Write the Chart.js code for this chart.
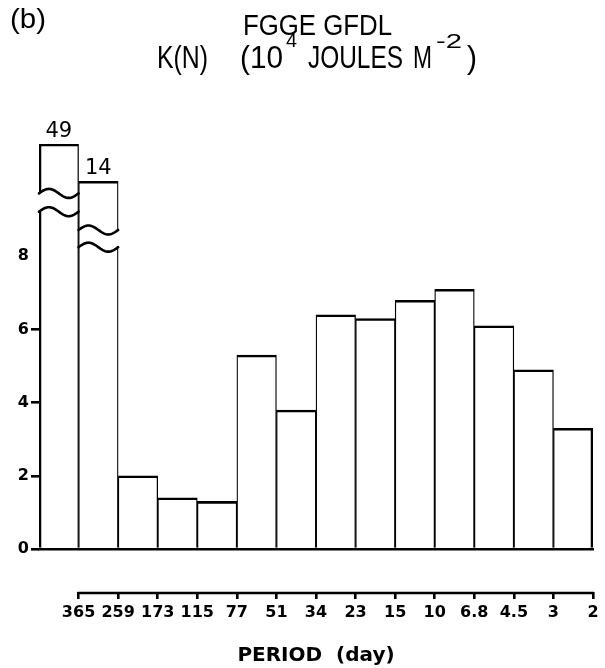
<!DOCTYPE html>
<html>
<head>
<meta charset="utf-8">
<script src="https://cdn.jsdelivr.net/npm/chart.js@4.4.1/dist/chart.umd.min.js"></script>
<style>
  html, body { margin: 0; padding: 0; background: #fff; }
  #wrap { width: 605px; height: 668px; }
</style>
</head>
<body>
<div id="wrap"><canvas id="c" width="605" height="668"></canvas></div>
<script>
// ---- data ----
const categories = ['>365', '365-259', '259-173', '173-115', '115-77', '77-51', '51-34',
                    '34-23', '23-15', '15-10', '10-6.8', '6.8-4.5', '4.5-3', '3-2'];
const values = [49, 14, 2.0, 1.4, 1.3, 5.3, 3.8, 6.4, 6.3, 6.8, 7.1, 6.1, 4.9, 3.3];
const periodTicks = ['365', '259', '173', '115', '77', '51', '34', '23', '15', '10', '6.8', '4.5', '3', '2'];
const yTicks = [0, 2, 4, 6, 8];

// ---- broken-bar drawing settings (axis is cut for the two off-scale bars) ----
const Y_MAX = 11.07;
const broken = [
  { index: 0, stub: 11.07, upper: 9.72, lower: 9.22 },
  { index: 1, stub: 10.05, upper: 8.72, lower: 8.25 }
];
const stubFor = i => { const b = broken.find(d => d.index === i); return b ? b.stub : null; };
const plotted = values.map((v, i) => stubFor(i) !== null ? stubFor(i) : v);

const TITLE_FONT = "'Liberation Sans', Arial, sans-serif";
const TICK_FONT = "'DejaVu Sans', sans-serif";
const LW = 2.6;

// draw text fitted horizontally into [x0, x1] (condensed lettering of the original)
function drawFit(ctx, text, x0, x1, y, font) {
  ctx.save();
  ctx.font = font;
  ctx.textAlign = 'left';
  ctx.textBaseline = 'alphabetic';
  const w = ctx.measureText(text).width;
  ctx.translate(x0, y);
  ctx.scale((x1 - x0) / w, 1);
  ctx.fillText(text, 0, 0);
  ctx.restore();
}

const annotatePlugin = {
  id: 'annotate',
  afterDatasetsDraw(chart) {
    const ctx = chart.ctx;
    const ys = chart.scales.y;
    const meta = chart.getDatasetMeta(0);
    const A = 4.5;
    const wave = t => -A * Math.sin(2 * Math.PI * t);
    broken.forEach(b => {
      const bar = meta.data[b.index];
      const p = bar.getProps(['x', 'width'], true);
      const left = p.x - p.width / 2, right = p.x + p.width / 2;
      const yU = ys.getPixelForValue(b.upper);
      const yL = ys.getPixelForValue(b.lower);
      const lh = b.index > 0 ? plotted[b.index - 1] : -1;
      const rh = b.index < plotted.length - 1 ? plotted[b.index + 1] : -1;
      const xl = lh >= b.upper ? left + LW / 2 : left - 3;
      const xr = rh >= b.upper ? right - LW / 2 : right + 3;
      const N = 40;
      ctx.save();
      ctx.fillStyle = '#fff';
      ctx.beginPath();
      for (let k = 0; k <= N; k++) {
        const xx = xl + (xr - xl) * k / N;
        ctx.lineTo(xx, yU + wave((xx - left) / (right - left)));
      }
      for (let k = N; k >= 0; k--) {
        const xx = xl + (xr - xl) * k / N;
        ctx.lineTo(xx, yL + wave((xx - left) / (right - left)));
      }
      ctx.closePath();
      ctx.fill();
      ctx.strokeStyle = '#000';
      ctx.lineWidth = LW;
      ctx.lineCap = 'round';
      [yU, yL].forEach(y0 => {
        ctx.beginPath();
        for (let k = 0; k <= N; k++) {
          const t = k / N;
          const xx = left + (right - left) * t;
          if (k === 0) ctx.moveTo(xx, y0 + wave(t)); else ctx.lineTo(xx, y0 + wave(t));
        }
        ctx.stroke();
      });
      // true value written above the cut bar
      ctx.fillStyle = '#000';
      ctx.font = '21px ' + TICK_FONT;
      ctx.textAlign = 'center';
      ctx.textBaseline = 'alphabetic';
      ctx.fillText(String(values[b.index]), p.x, ys.getPixelForValue(b.stub) - 7);
      ctx.restore();
    });

    // lower period axis line, from first to last period tick
    const x2 = chart.scales.x2;
    ctx.save();
    ctx.strokeStyle = '#000';
    ctx.lineWidth = LW;
    ctx.beginPath();
    ctx.moveTo(x2.getPixelForValue(1) - 1, x2.top + 1);
    ctx.lineTo(x2.getPixelForValue(periodTicks.length) + 1, x2.top + 1);
    ctx.stroke();
    ctx.restore();
  },
  afterDraw(chart) {
    const ctx = chart.ctx;
    ctx.save();
    ctx.fillStyle = '#000';
    const big = '31px ' + TITLE_FONT, small = '20px ' + TITLE_FONT;
    drawFit(ctx, '(b)', 10, 46, 28, '28px ' + TITLE_FONT);
    drawFit(ctx, 'FGGE GFDL', 243, 392, 35, '29px ' + TITLE_FONT);
    drawFit(ctx, 'K(N)', 157, 208, 68, big);
    drawFit(ctx, '(10', 240, 283, 68, big);
    drawFit(ctx, '4', 286, 297, 47, small);
    drawFit(ctx, 'JOULES', 308, 403, 68, big);
    drawFit(ctx, 'M', 413, 432, 68, big);
    drawFit(ctx, '-2', 436, 462, 48, small);
    drawFit(ctx, ')', 467, 477, 68, big);
    ctx.restore();
  }
};

const n = values.length;
new Chart(document.getElementById('c'), {
  type: 'bar',
  data: {
    labels: categories,
    datasets: [{
      data: plotted,
      backgroundColor: '#ffffff',
      borderColor: '#000000',
      borderWidth: c => ({ top: LW, bottom: 0, left: c.dataIndex === 0 ? LW : LW / 2, right: c.dataIndex === n - 1 ? LW : LW / 2 }),
      borderSkipped: false,
      categoryPercentage: 1.0,
      barPercentage: 1.0
    }]
  },
  options: {
    responsive: false,
    animation: false,
    devicePixelRatio: 1,
    layout: { padding: { top: 144, right: 12, left: 0, bottom: 0 } },
    plugins: { legend: { display: false }, tooltip: { enabled: false }, title: { display: false } },
    scales: {
      x: {
        type: 'category',
        weight: 0,
        grid: { display: false, drawTicks: false },
        ticks: { display: false },
        border: { display: true, color: '#000', width: LW },
        afterFit(s) { s.height = 43; }
      },
      x2: {
        type: 'linear',
        position: 'bottom',
        weight: 1,
        offset: false,
        min: 0,
        max: periodTicks.length,
        grid: {
          offset: false,
          drawOnChartArea: false,
          drawTicks: true,
          tickLength: 7,
          lineWidth: LW,
          color: c => (c.tick && c.tick.value >= 1) ? '#000' : 'rgba(0,0,0,0)'
        },
        border: { display: false },
        ticks: {
          stepSize: 1,
          autoSkip: false,
          maxRotation: 0,
          padding: 4,
          color: '#000',
          font: { family: TICK_FONT, size: 16, weight: 'bold' },
          callback: v => (v >= 1 && v <= periodTicks.length) ? periodTicks[v - 1] : ''
        },
        title: {
          display: true,
          text: 'PERIOD  (day)',
          color: '#000',
          font: { family: TICK_FONT, size: 20, weight: 'bold' },
          padding: { top: 6, bottom: 0 }
        },
        afterFit(s) { s.height = 76; }
      },
      y: {
        min: 0,
        max: Y_MAX,
        afterFit(s) { s.width = 39; },
        grid: {
          drawOnChartArea: false,
          drawTicks: true,
          tickLength: 8,
          lineWidth: LW,
          color: c => (c.tick && yTicks.includes(c.tick.value) && c.tick.value < 8) ? '#000' : 'rgba(0,0,0,0)'
        },
        border: { display: false },
        afterBuildTicks(s) { s.ticks = yTicks.map(v => ({ value: v })); },
        ticks: {
          padding: 2,
          color: '#000',
          font: { family: TICK_FONT, size: 16, weight: 'bold' },
          callback: v => String(v)
        }
      }
    }
  },
  plugins: [annotatePlugin]
});
</script>
</body>
</html>
